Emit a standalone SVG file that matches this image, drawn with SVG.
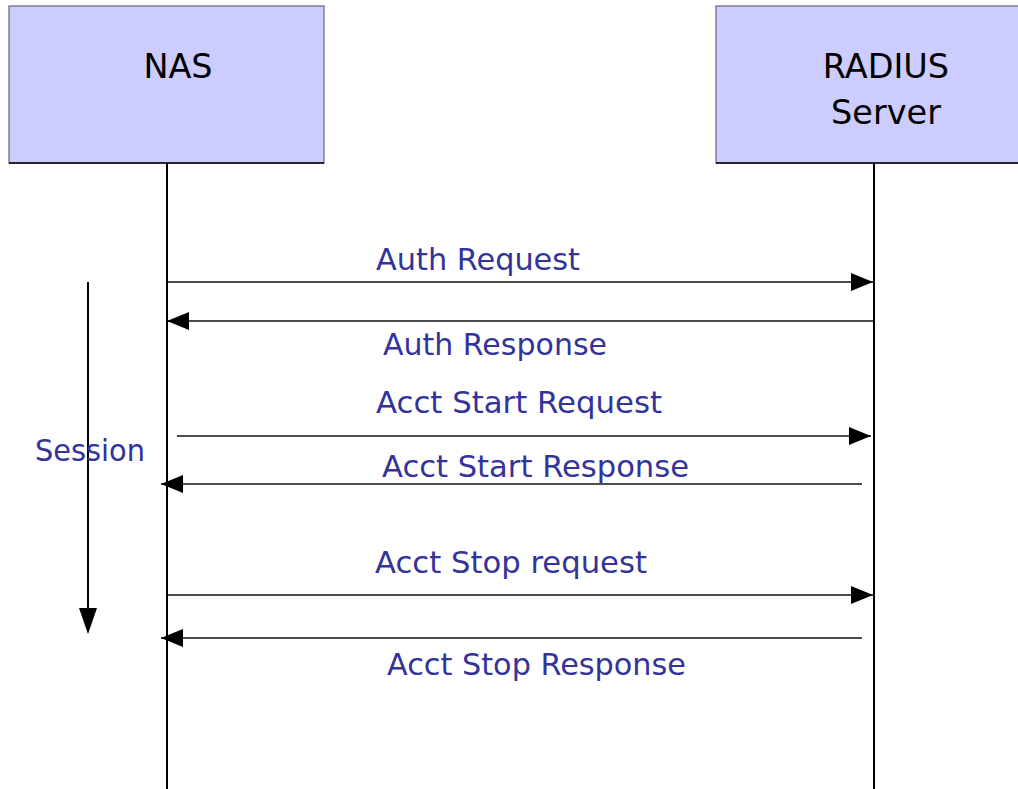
<svg xmlns="http://www.w3.org/2000/svg" width="1018" height="789" viewBox="0 0 1018 789">
<style>
.box{fill:#CCCCFF;stroke:#666677;stroke-width:1.2}
.life{stroke:#000;stroke-width:2;fill:none}
.msg{stroke:#111;stroke-width:1.3;fill:none}
.lbl{font-family:"DejaVu Sans",sans-serif;font-size:30.5px;fill:#333399}
.nm{font-family:"DejaVu Sans",sans-serif;font-size:33.5px;fill:#000;text-anchor:middle}
</style>
<defs>
<marker id="ah" viewBox="0 0 22 18" refX="22" refY="9" markerWidth="22" markerHeight="18" markerUnits="userSpaceOnUse" orient="auto">
<path d="M0,0 L22,9 L0,18 Z" fill="#000"/>
</marker>
</defs>
<g id="nas">
<rect class="box" x="9" y="6" width="315" height="157"/>
<line x1="9" y1="163" x2="324" y2="163" stroke="#000" stroke-width="1.5"/>
<text class="nm" x="178" y="78">NAS</text>
</g>
<g id="radius">
<rect class="box" x="716" y="6" width="310" height="157"/>
<line x1="716" y1="163" x2="1018" y2="163" stroke="#000" stroke-width="1.5"/>
<text class="nm" x="886" y="78">RADIUS</text>
<text class="nm" x="886" y="124">Server</text>
</g>
<g id="connectors">
<line class="life" x1="167" y1="163" x2="167" y2="789"/>
<line class="life" x1="874" y1="163" x2="874" y2="789"/>
<line class="msg" x1="167" y1="282" x2="873" y2="282" marker-end="url(#ah)"/>
<line class="msg" x1="873" y1="321" x2="167" y2="321" marker-end="url(#ah)"/>
<line class="msg" x1="177" y1="436" x2="871" y2="436" marker-end="url(#ah)"/>
<line class="msg" x1="862" y1="484" x2="161" y2="484" marker-end="url(#ah)"/>
<line class="msg" x1="167" y1="595" x2="873" y2="595" marker-end="url(#ah)"/>
<line class="msg" x1="862" y1="638" x2="161" y2="638" marker-end="url(#ah)"/>
<line x1="88" y1="282" x2="88" y2="612" stroke="#000" stroke-width="2"/>
<path d="M79,608 L97,608 L88,634 Z" fill="#000"/>
</g>
<g id="labels">
<text class="lbl" x="376" y="270" textLength="204" lengthAdjust="spacingAndGlyphs">Auth Request</text>
<text class="lbl" x="383" y="355" textLength="224" lengthAdjust="spacingAndGlyphs">Auth Response</text>
<text class="lbl" x="376" y="413" textLength="286" lengthAdjust="spacingAndGlyphs">Acct Start Request</text>
<text class="lbl" x="382" y="477" textLength="307" lengthAdjust="spacingAndGlyphs">Acct Start Response</text>
<text class="lbl" x="375" y="573" textLength="272" lengthAdjust="spacingAndGlyphs">Acct Stop request</text>
<text class="lbl" x="387" y="675" textLength="299" lengthAdjust="spacingAndGlyphs">Acct Stop Response</text>
<text class="lbl" x="35" y="461" textLength="110" lengthAdjust="spacingAndGlyphs">Session</text>
</g>
</svg>
